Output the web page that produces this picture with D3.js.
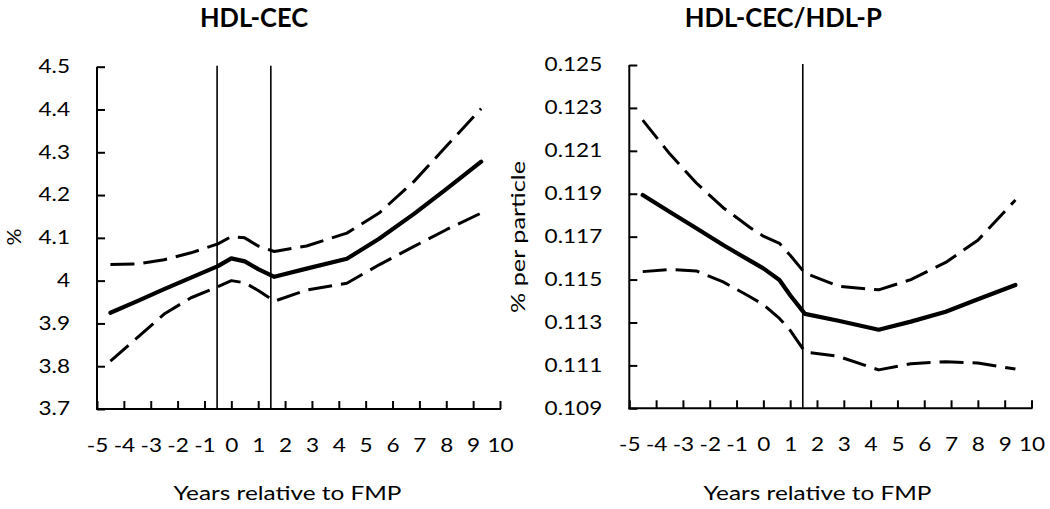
<!DOCTYPE html>
<html><head><meta charset="utf-8">
<script src="https://cdn.jsdelivr.net/npm/d3@7"></script>
<style>
body{margin:0;background:#fff}
svg{display:block;background:#fff}
text{font-family:Lato,'Open Sans',sans-serif;fill:#000}
</style>
</head><body>
<svg id="c" width="1050" height="509"></svg>
<script>
// ---------- data ----------
const xTickValues = [-5,-4,-3,-2,-1,0,1,2,3,4,5,6,7,8,9,10];

const leftYTicks = [3.7,3.8,3.9,4,4.1,4.2,4.3,4.4,4.5];
const leftX     = [-4.5,-3.5,-2.5,-1.5,-0.5,0,0.5,1.0,1.6,2.8,4.3,5.5,6.8,8.0,9.3];
const leftMean  = [3.925,3.952,3.980,4.007,4.034,4.052,4.045,4.027,4.009,4.028,4.051,4.098,4.156,4.214,4.278];
const leftUpper = [4.038,4.039,4.049,4.065,4.086,4.103,4.100,4.081,4.068,4.081,4.111,4.158,4.232,4.314,4.402];
const leftLower = [3.812,3.867,3.922,3.960,3.986,4.000,3.995,3.977,3.952,3.978,3.994,4.037,4.080,4.119,4.158];
const leftRefLines = [-0.53, 1.47];

const rightYTicks = [0.109,0.111,0.113,0.115,0.117,0.119,0.121,0.123,0.125];
const rightX     = [-4.5,-3.5,-2.5,-1.5,-0.5,0,0.6,1.0,1.55,2.8,4.3,5.5,6.8,8.0,9.4];
const rightMean  = [0.11894,0.11816,0.11739,0.11661,0.11588,0.11552,0.11498,0.11427,0.11340,0.11308,0.11266,0.11304,0.11350,0.11408,0.11475];
const rightUpper = [0.12243,0.12087,0.11950,0.11835,0.11743,0.11702,0.11669,0.11613,0.11530,0.11469,0.11452,0.11500,0.11580,0.11683,0.11871];
const rightLower = [0.11537,0.11547,0.11540,0.11489,0.11420,0.11383,0.11319,0.11263,0.11163,0.11142,0.11079,0.11108,0.11117,0.11111,0.11083];
const rightRefLines = [1.47];

const titles = ["HDL-CEC", "HDL-CEC/HDL-P"];
const yTitles = ["%", "% per particle"];
const xTitle = "Years relative to FMP";

// ---------- drawing ----------
const svg = d3.select("#c");
const TICK_FS = 18.5;

function stretch(sel, k) {
  sel.each(function() {
    const w = this.getComputedTextLength();
    d3.select(this).attr("textLength", w * k).attr("lengthAdjust", "spacingAndGlyphs");
  });
}
function fitTo(sel, width) {
  sel.attr("textLength", width).attr("lengthAdjust", "spacingAndGlyphs");
}

function panel(o) {
  const g = svg.append("g");
  const x = d3.scaleLinear().domain([-5, 10]).range(o.xRange);
  const y = d3.scaleLinear().domain([o.yTicks[0], o.yTicks[o.yTicks.length-1]]).range(o.yRange);

  // reference vertical lines
  g.selectAll("line.ref").data(o.refLines).join("line")
    .attr("class","ref")
    .attr("x1", d => x(d)).attr("x2", d => x(d))
    .attr("y1", y.range()[1] - 1).attr("y2", y.range()[0])
    .attr("stroke","#000").attr("stroke-width",1.6);

  // axes
  const xa = g.append("g").attr("transform", `translate(0,${y.range()[0]})`)
    .call(d3.axisBottom(x).tickValues(xTickValues).tickFormat(d => String(d))
      .tickSizeInner(-8).tickSizeOuter(0).tickPadding(30));
  const ya = g.append("g").attr("transform", `translate(${x.range()[0]},0)`)
    .call(d3.axisLeft(y).tickValues(o.yTicks).tickFormat(o.fmt)
      .tickSizeInner(-8).tickSizeOuter(0).tickPadding(27));
  [xa, ya].forEach(a => {
    a.attr("font-family", null).attr("font-size", null);
    a.select(".domain").attr("stroke","#000").attr("stroke-width",2);
    a.selectAll(".tick line").attr("stroke","#000").attr("stroke-width",2);
    a.selectAll(".tick text").style("font-size", TICK_FS + "px");
  });
  ya.select(".domain").attr("d", `M0,${y.range()[0]+1}V${y.range()[1]}`);
  xa.select(".domain").attr("d", `M${x.range()[0]-1},0H${x.range()[1]+1}`);
  stretch(xa.selectAll(".tick text"), 1.22);
  stretch(ya.selectAll(".tick text"), 1.22);

  // series
  const line = d3.line().x(d => x(d[0])).y(d => y(d[1]));
  const mk = vals => o.xs.map((v, i) => [v, vals[i]]);
  [o.upper, o.lower].forEach(vals => {
    g.append("path").datum(mk(vals)).attr("d", line)
      .attr("fill","none").attr("stroke","#000").attr("stroke-width",3)
      .attr("stroke-dasharray","24,9").attr("stroke-linejoin","round");
  });
  g.append("path").datum(mk(o.mean)).attr("d", line)
    .attr("fill","none").attr("stroke","#000").attr("stroke-width",4.2)
    .attr("stroke-linejoin","round").attr("stroke-linecap","round");

  // titles
  fitTo(g.append("text").attr("x", o.titleX).attr("y", 26.7).attr("text-anchor","middle")
    .style("font-size","27.5px").style("font-weight","bold").text(o.title), o.titleW);
  fitTo(g.append("text").attr("x", o.xTitleX).attr("y", 499.5).attr("text-anchor","middle")
    .style("font-size", TICK_FS + "px").text(xTitle), 228);
  fitTo(g.append("text").attr("transform", `translate(${o.yTitleX},${o.yTitleY}) rotate(-90)`)
    .attr("text-anchor","middle").style("font-size", TICK_FS + "px").text(o.yTitle), o.yTitleW);
}

panel({
  xRange:[97,500], yRange:[409,66.7], yTicks:leftYTicks, fmt:d => String(d),
  xs:leftX, mean:leftMean, upper:leftUpper, lower:leftLower, refLines:leftRefLines,
  title:titles[0], titleX:254, titleW:108, xTitleX:287.5,
  yTitle:yTitles[0], yTitleX:21, yTitleY:237, yTitleW:17
});
panel({
  xRange:[629.3,1031.5], yRange:[408.3,65], yTicks:rightYTicks, fmt:d3.format(".3f"),
  xs:rightX, mean:rightMean, upper:rightUpper, lower:rightLower, refLines:rightRefLines,
  title:titles[1], titleX:783.3, titleW:197, xTitleX:817.5,
  yTitle:yTitles[1], yTitleX:525, yTitleY:237, yTitleW:152
});
</script>
</body></html>
